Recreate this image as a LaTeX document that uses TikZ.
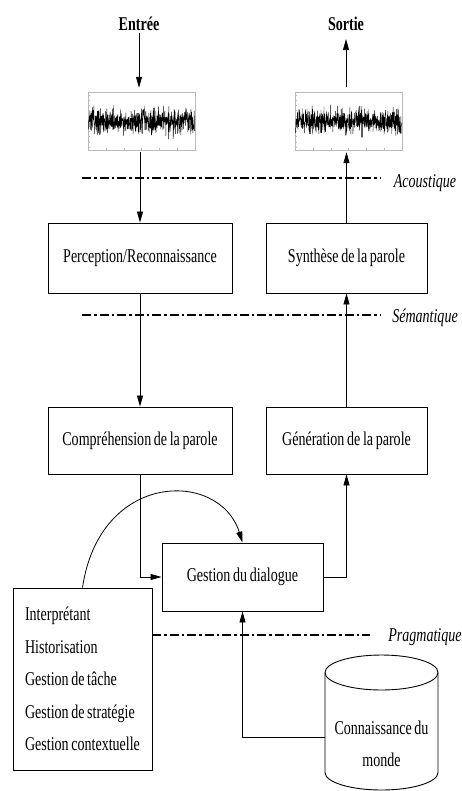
\documentclass[tikz,border=0pt]{standalone}
\usepackage{fontspec}
\setmainfont[FakeStretch=0.72, WordSpace=0.75]{Liberation Serif}
\usetikzlibrary{arrows.meta, calc, positioning}
\newcommand{\dlgfont}{\fontsize{19.5}{23}\selectfont}
\tikzset{
  dlgbox/.style     = {draw, line width=0.9pt, font=\dlgfont, inner sep=2pt},
  dlgedge/.style    = {line width=0.8pt, -{Triangle[length=11pt, width=6pt]}},
  dlgline/.style    = {line width=0.9pt},
  iolabel/.style    = {font=\dlgfont\bfseries, inner sep=2pt},
  layerline/.style  = {line width=1.1pt, dash pattern=on 9pt off 3pt on 2.5pt off 3pt},
  layerlabel/.style = {font=\dlgfont\itshape, inner sep=1pt},
  sigframe/.style   = {draw=gray!55, line width=0.4pt, minimum width=107pt,
                       minimum height=58pt, inner sep=0pt},
  sigtick/.style    = {draw=gray!55, line width=0.3pt},
  sigtrace/.style   = {line width=0.4pt, line join=round},
  listbox/.style    = {dlgbox, minimum width=139pt, minimum height=182pt,
                       inner sep=10pt, align=left,
                       font=\fontsize{19.5}{32.5}\selectfont},
  kbtext/.style     = {font=\fontsize{19.5}{32}\selectfont, align=center, inner sep=0pt},
}

\begin{document}
\begin{tikzpicture}[x=1pt, y=-1pt]
  \useasboundingbox (0,0) rectangle (462,791);
  % entree / sortie
  \node[iolabel] (entree) at (139,24) {Entrée};
  \node[iolabel] (sortie) at (346,24) {Sortie};
  % signaux
  \node[sigframe] (sigin)  at (141.5,121) {};
  \node[sigframe] (sigout) at (348.5,121) {};
  \pgfmathsetseed{42}
  \foreach \s in {sigin, sigout} {
    \begin{scope}[shift={(\s.center)}]
      \foreach \k in {0,...,10}
        \draw[sigtick] (-53.5,{-26+\k*5.2}) -- ++(2,0);
      \foreach \k in {0,...,6}
        \draw[sigtick] ({-53.5+\k*107/6},29) -- ++(0,-2);
      \draw[sigtrace] plot[domain=-53:53, samples=600] (\x,{6.5*(rand+rand+rand)});
    \end{scope}
  }
  % boites
  \node[dlgbox, minimum width=184pt, minimum height=70pt] (perc)  at (140,258) {Perception/Reconnaissance};
  \node[dlgbox, minimum width=161pt, minimum height=70pt] (synth) at (346.5,258) {Synthèse de la parole};
  \node[dlgbox, minimum width=184pt, minimum height=67pt] (compr) at (140,440.5) {Compréhension de la parole};
  \node[dlgbox, minimum width=161pt, minimum height=67pt] (gener) at (346.5,440.5) {Génération de la parole};
  \node[dlgbox, minimum width=161pt, minimum height=68pt] (dialog) at (242.5,577) {Gestion du dialogue};
  \node[listbox] (taches) at (82.5,679) {Interprétant\\Historisation\\Gestion de tâche\\Gestion de stratégie\\Gestion contextuelle};
  % base de connaissances
  \draw[dlgline] (325,672.5) -- (325,772.5)
    arc[start angle=180, end angle=0, x radius=56.5, y radius=17.5] -- (438,672.5);
  \draw[dlgline] (381.5,672.5) ellipse[x radius=56.5, y radius=17.5];
  \node[kbtext] (monde) at (381.5,744) {Connaissance du\\monde};
  \coordinate (kb) at (325,737);
  % niveaux
  \node[layerlabel] (acou) at (425,183) {Acoustique};
  \node[layerlabel] (sem)  at (425,318) {Sémantique};
  \node[layerlabel] (prag) at (425,637) {Pragmatique};
  \draw[layerline] (82,178) -- (380,178);
  \draw[layerline] (82,315) -- (380,315);
  \draw[layerline] (152,635) -- (370,635);
  % fleches
  \draw[dlgedge, shorten >=4pt] (entree.south) -- (entree.south |- sigin.north);
  \draw[dlgedge, shorten <=2pt] (perc.north |- sigin.south) -- (perc.north);
  \draw[dlgedge, shorten >=2pt] (synth.north) -- (synth.north |- sigout.south);
  \draw[dlgedge, shorten <=5pt, shorten >=6pt] (sortie.south |- sigout.north) -- (sortie.south);
  \draw[dlgedge] (perc) -- (compr);
  \draw[dlgedge] (gener) -- (synth);
  \draw[dlgedge] (compr.south) |- (dialog.west);
  \draw[dlgedge] (dialog.east) -| (gener.south);
  \draw[dlgedge] (kb) -| (dialog.south);
  \draw[dlgedge] (taches.north) .. controls (100,470) and (220,470) .. (dialog.north);
\end{tikzpicture}
\end{document}
